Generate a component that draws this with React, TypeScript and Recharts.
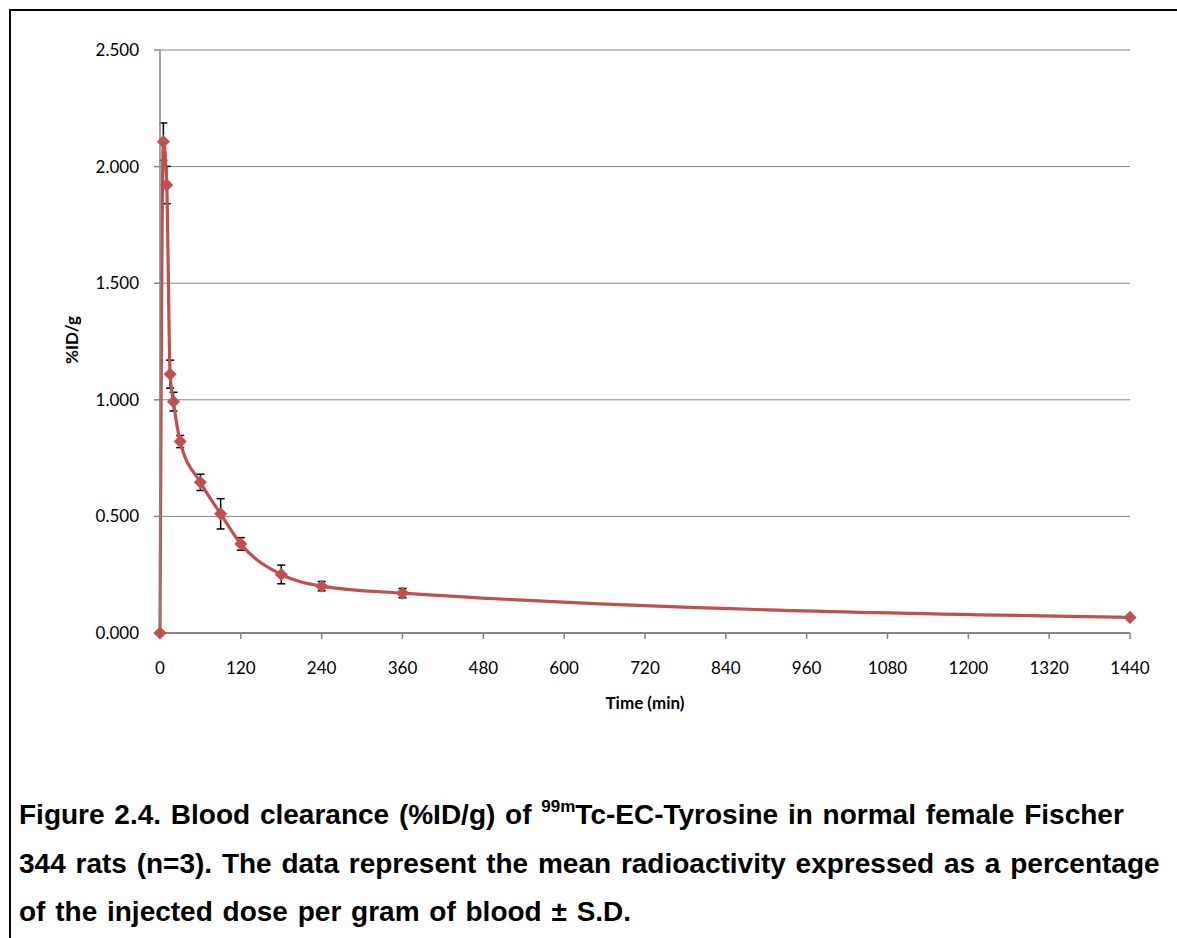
import React from "react";
import { LineChart, Line, XAxis, YAxis, CartesianGrid, ErrorBar } from "recharts";

const timesMin = [0, 5, 10, 15, 20, 30, 60, 90, 120, 180, 240, 360, 1440];
const meanIDg = [0, 2.107, 1.921, 1.11, 0.992, 0.821, 0.646, 0.511, 0.382, 0.251, 0.201, 0.171, 0.067];
const sdIDg = [0, 0.08, 0.08, 0.06, 0.04, 0.026, 0.035, 0.065, 0.027, 0.04, 0.02, 0.02, 0.005];
const xTicks = [0, 120, 240, 360, 480, 600, 720, 840, 960, 1080, 1200, 1320, 1440];
const yTicks = [0, 0.5, 1, 1.5, 2, 2.5];

const data = timesMin.map((t, i) => ({ t, v: meanIDg[i], sd: sdIDg[i] }));

const RED = "#C0504D";
const AXIS = "#868686";
const FONT = "Lato, 'Open Sans', sans-serif";

const Diamond = (props: any) => {
  const { cx, cy, index } = props;
  if (cx == null || cy == null) return <g key={`d-${index}`} />;
  const r = 6.3;
  return (
    <polygon
      key={`d-${index}`}
      points={`${cx},${cy - r} ${cx + r},${cy} ${cx},${cy + r} ${cx - r},${cy}`}
      fill={RED}
      stroke={RED}
      strokeWidth={0.5}
    />
  );
};

export default function App() {
  return (
    <div
      style={{
        position: "absolute",
        left: 0,
        top: 0,
        width: 1177,
        height: 938,
        background: "#fff",
        overflow: "hidden",
      }}
    >
      <div
        style={{
          position: "absolute",
          left: 9,
          top: 9,
          width: 1200,
          height: 960,
          borderTop: "2px solid #000",
          borderLeft: "2px solid #000",
        }}
      />
      <div style={{ position: "absolute", left: 0, top: 0 }}>
        <LineChart
          width={1177}
          height={760}
          data={data}
          margin={{ top: 50, right: 47, left: 0, bottom: 67 }}
        >
          <CartesianGrid vertical={false} stroke={AXIS} strokeWidth={1} />
          <XAxis
            dataKey="t"
            type="number"
            domain={[0, 1440]}
            ticks={xTicks}
            interval={0}
            height={60}
            tickSize={6}
            tickMargin={23}
            axisLine={{ stroke: AXIS, strokeWidth: 2 }}
            tickLine={{ stroke: AXIS, strokeWidth: 1.5 }}
            tick={{ fill: "#000", fontSize: 17, fontFamily: FONT }}
          />
          <YAxis
            type="number"
            domain={[0, 2.5]}
            ticks={yTicks}
            interval={0}
            width={160}
            tickSize={6}
            tickMargin={15}
            tickFormatter={(v: number) => v.toFixed(3)}
            axisLine={{ stroke: AXIS, strokeWidth: 1.5 }}
            tickLine={{ stroke: AXIS, strokeWidth: 1.5 }}
            tick={{ fill: "#000", fontSize: 17, fontFamily: FONT }}
          />
          <Line
            dataKey="v"
            type="monotone"
            stroke={RED}
            strokeWidth={3.2}
            dot={Diamond}
            activeDot={false}
            isAnimationActive={false}
          >
            <ErrorBar dataKey="sd" width={4} stroke="#000" strokeWidth={1.5} direction="y" />
          </Line>
        </LineChart>
      </div>
      <div
        style={{
          position: "absolute",
          left: 545,
          top: 692,
          width: 200,
          textAlign: "center",
          fontFamily: FONT,
          fontWeight: 700,
          fontSize: 17,
          color: "#000",
        }}
      >
        Time (min)
      </div>
      <div
        style={{
          position: "absolute",
          left: 72,
          top: 340,
          width: 120,
          height: 24,
          marginLeft: -60,
          marginTop: -12,
          lineHeight: "24px",
          textAlign: "center",
          transform: "rotate(-90deg)",
          fontFamily: FONT,
          fontWeight: 700,
          fontSize: 17,
          color: "#000",
        }}
      >
        %ID/g
      </div>
      <div
        style={{
          position: "absolute",
          left: 19,
          top: 791,
          width: 1158,
          whiteSpace: "nowrap",
          fontFamily: "'Liberation Sans', Arial, sans-serif",
          fontWeight: 700,
          fontSize: 28,
          wordSpacing: 2,
          lineHeight: "48.5px",
          color: "#000",
        }}
      >
        Figure 2.4. Blood clearance (%ID/g) of{" "}
        <sup style={{ fontSize: 17, lineHeight: 0, verticalAlign: "12px", wordSpacing: 0 }}>99m</sup>Tc-EC-Tyrosine in normal female Fischer
        <br />
        344 rats (n=3). The data represent the mean radioactivity expressed as a percentage
        <br />
        of the injected dose per gram of blood ± S.D.
      </div>
    </div>
  );
}
